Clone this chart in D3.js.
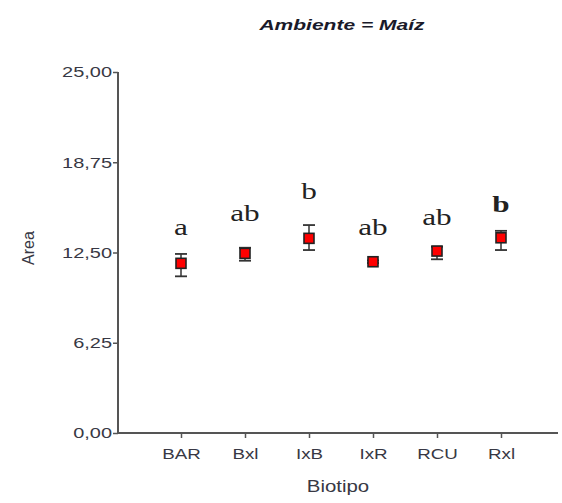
<!DOCTYPE html>
<html>
<head>
<meta charset="utf-8">
<script src="https://cdn.jsdelivr.net/npm/d3@7"></script>
<style>
body { margin: 0; background: #fff; }
svg { display: block; }
</style>
</head>
<body>
<svg id="chart" width="562" height="503"></svg>
<script>
const categories = ["BAR", "Bxl", "IxB", "IxR", "RCU", "Rxl"];
const means = [11.75, 12.44, 13.48, 11.86, 12.6, 13.52];
const upper = [12.4, 12.83, 14.4, 11.95, 12.9, 14.0];
const lower = [10.85, 11.93, 12.67, 11.77, 12.03, 12.67];
const letters = ["a", "ab", "b", "ab", "ab", "b"];
const letterValues = [13.71, 14.7, 16.2, 13.71, 14.4, 15.33];
const letterBold = [false, false, false, false, false, true];
const yTicks = [0, 6.25, 12.5, 18.75, 25];
const title = "Ambiente = Maíz";
const xTitle = "Biotipo";
const yTitle = "Area";

const svg = d3.select("#chart");
const x0 = 118, x1 = 558, yTop = 72, yBot = 433;
const STRETCH = 1.33;
const sans = "Arial, 'Liberation Sans', sans-serif";

const x = d3.scalePoint().domain(categories).range([181, 501]);
const y = d3.scaleLinear().domain([0, 25]).range([yBot, yTop]);

const fmt = d => d.toFixed(2).replace(".", ",");
const axisColor = "#555";
const textColor = "#383844";

function stretch(sel, f) {
  sel.each(function() {
    const w = this.getComputedTextLength();
    d3.select(this).attr("textLength", w * f).attr("lengthAdjust", "spacingAndGlyphs");
  });
}

// Y axis
const yAxis = svg.append("g").attr("transform", `translate(${x0},0)`)
  .call(d3.axisLeft(y).tickValues(yTicks).tickFormat(fmt).tickSize(5).tickPadding(1));
yAxis.select(".domain").attr("stroke", axisColor).attr("stroke-width", 2)
  .attr("d", `M0,${yTop}V${yBot}`);
yAxis.selectAll(".tick line").attr("stroke", axisColor).attr("stroke-width", 1.5);
yAxis.selectAll(".tick text").attr("fill", textColor)
  .style("font-family", sans).style("font-size", "15px");
stretch(yAxis.selectAll(".tick text"), STRETCH);

// X axis
const xAxis = svg.append("g").attr("transform", `translate(0,${yBot})`)
  .call(d3.axisBottom(x).tickSize(5).tickPadding(10));
xAxis.select(".domain").attr("stroke", axisColor).attr("stroke-width", 2)
  .attr("d", `M${x0 - 1},0H${x1}`);
xAxis.selectAll(".tick line").attr("stroke", axisColor).attr("stroke-width", 1.5);
xAxis.selectAll(".tick text").attr("fill", textColor)
  .style("font-family", sans).style("font-size", "15px");
stretch(xAxis.selectAll(".tick text"), 1.25);

// Error bars, markers, letters
const g = svg.append("g");
categories.forEach((c, i) => {
  const cx = x(c);
  const color = "#333";
  g.append("line").attr("x1", cx).attr("x2", cx).attr("y1", y(upper[i])).attr("y2", y(lower[i]))
    .attr("stroke", color).attr("stroke-width", 1.5);
  [upper[i], lower[i]].forEach(v => {
    g.append("line").attr("x1", cx - 6).attr("x2", cx + 6).attr("y1", y(v)).attr("y2", y(v))
      .attr("stroke", color).attr("stroke-width", 1.8);
  });
  g.append("rect").attr("x", cx - 5).attr("y", y(means[i]) - 5).attr("width", 10).attr("height", 10)
    .attr("fill", "#ff0000").attr("stroke", "#222").attr("stroke-width", 1.6);
  const t = g.append("text").attr("x", cx).attr("y", y(letterValues[i]))
    .attr("text-anchor", "middle")
    .style("font-family", "'Liberation Serif', 'DejaVu Serif', serif")
    .style("font-size", "24px")
    .style("font-weight", letterBold[i] ? "bold" : "normal")
    .attr("fill", "#222")
    .text(letters[i]);
  stretch(t, 1.3);
});

// Titles
const tt = svg.append("text").attr("x", 342).attr("y", 30).attr("text-anchor", "middle")
  .style("font-family", sans).style("font-size", "15px")
  .style("font-weight", "bold").style("font-style", "italic").attr("fill", "#1a1a2a")
  .text(title);
stretch(tt, 1.4);
const xt = svg.append("text").attr("x", 338).attr("y", 492).attr("text-anchor", "middle")
  .style("font-family", sans).style("font-size", "17px")
  .attr("fill", textColor).text(xTitle);
stretch(xt, 1.2);
svg.append("text").attr("transform", "translate(34,248) rotate(-90)").attr("text-anchor", "middle")
  .style("font-family", sans).style("font-size", "16px")
  .attr("fill", textColor).text(yTitle);
</script>
</body>
</html>
